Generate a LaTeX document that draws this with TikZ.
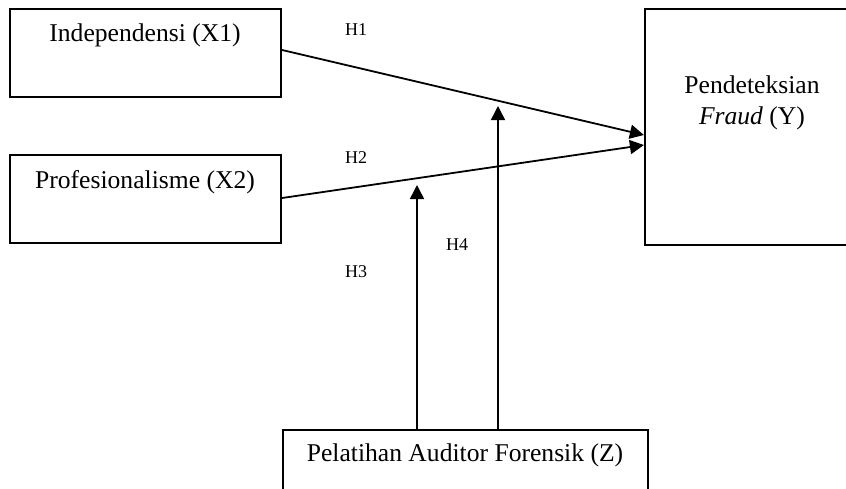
\documentclass[tikz,border=0pt]{standalone}
\usepackage{fontspec}
\setmainfont{Liberation Serif}
\usetikzlibrary{arrows.meta,calc}
\begin{document}
\begin{tikzpicture}[x=0.5pt,y=-0.5pt,
  box/.style={draw, line width=1.1pt, inner sep=0pt},
  lbl/.style={font=\fontsize{12.8}{15}\selectfont, inner sep=0pt},
  hlbl/.style={font=\fontsize{9}{11}\selectfont, inner sep=0pt},
  conn/.style={line width=0.9pt, -{Triangle[length=7pt,width=7pt]}},
  vconn/.style={line width=0.75pt, -{Triangle[length=7pt,width=7pt]}}]
\useasboundingbox (0,0) rectangle (846,488);
\clip (0,0) rectangle (846,488);
% boxes
\node[box, minimum width=135.5pt, minimum height=44pt] (X1) at (145.5,53) {};
\node[box, minimum width=135.5pt, minimum height=44pt] (X2) at (145.5,199) {};
\node[box, minimum width=102.5pt, minimum height=118pt] (Y) at (747.5,127) {};
\node[box, minimum width=182.5pt, minimum height=36pt] (Z) at (465.5,466) {};
% texts
\node[lbl] (tX1) at (145,35) {Independensi (X1)};
\node[lbl] (tX2) at (145,182) {Profesionalisme (X2)};
\node[lbl] (tY1) at (752,85) {Pendeteksian};
\node[lbl] (tY2) at (752,118) {\textit{Fraud} (Y)};
\node[lbl] (tZ) at (465,455) {Pelatihan Auditor Forensik (Z)};
% hypothesis labels
\node[hlbl] (H1) at (356,30) {H1};
\node[hlbl] (H2) at (356,158) {H2};
\node[hlbl] (H3) at (356,272) {H3};
\node[hlbl] (H4) at (457,245) {H4};
% connector points
\coordinate (s1) at (281,50);
\coordinate (s2) at (281,198);
\coordinate (e1) at (645,135);
\coordinate (e2) at (645,145);
\coordinate (t3) at (417,185);
\coordinate (t4) at (498,106);
% connectors
\draw[conn] (X1.east |- s1) -- (Y.west |- e1);
\draw[conn] (X2.east |- s2) -- (Y.west |- e2);
\draw[vconn] (Z.north -| t3) -- (t3);
\draw[vconn] (Z.north -| t4) -- (t4);
\end{tikzpicture}
\end{document}
